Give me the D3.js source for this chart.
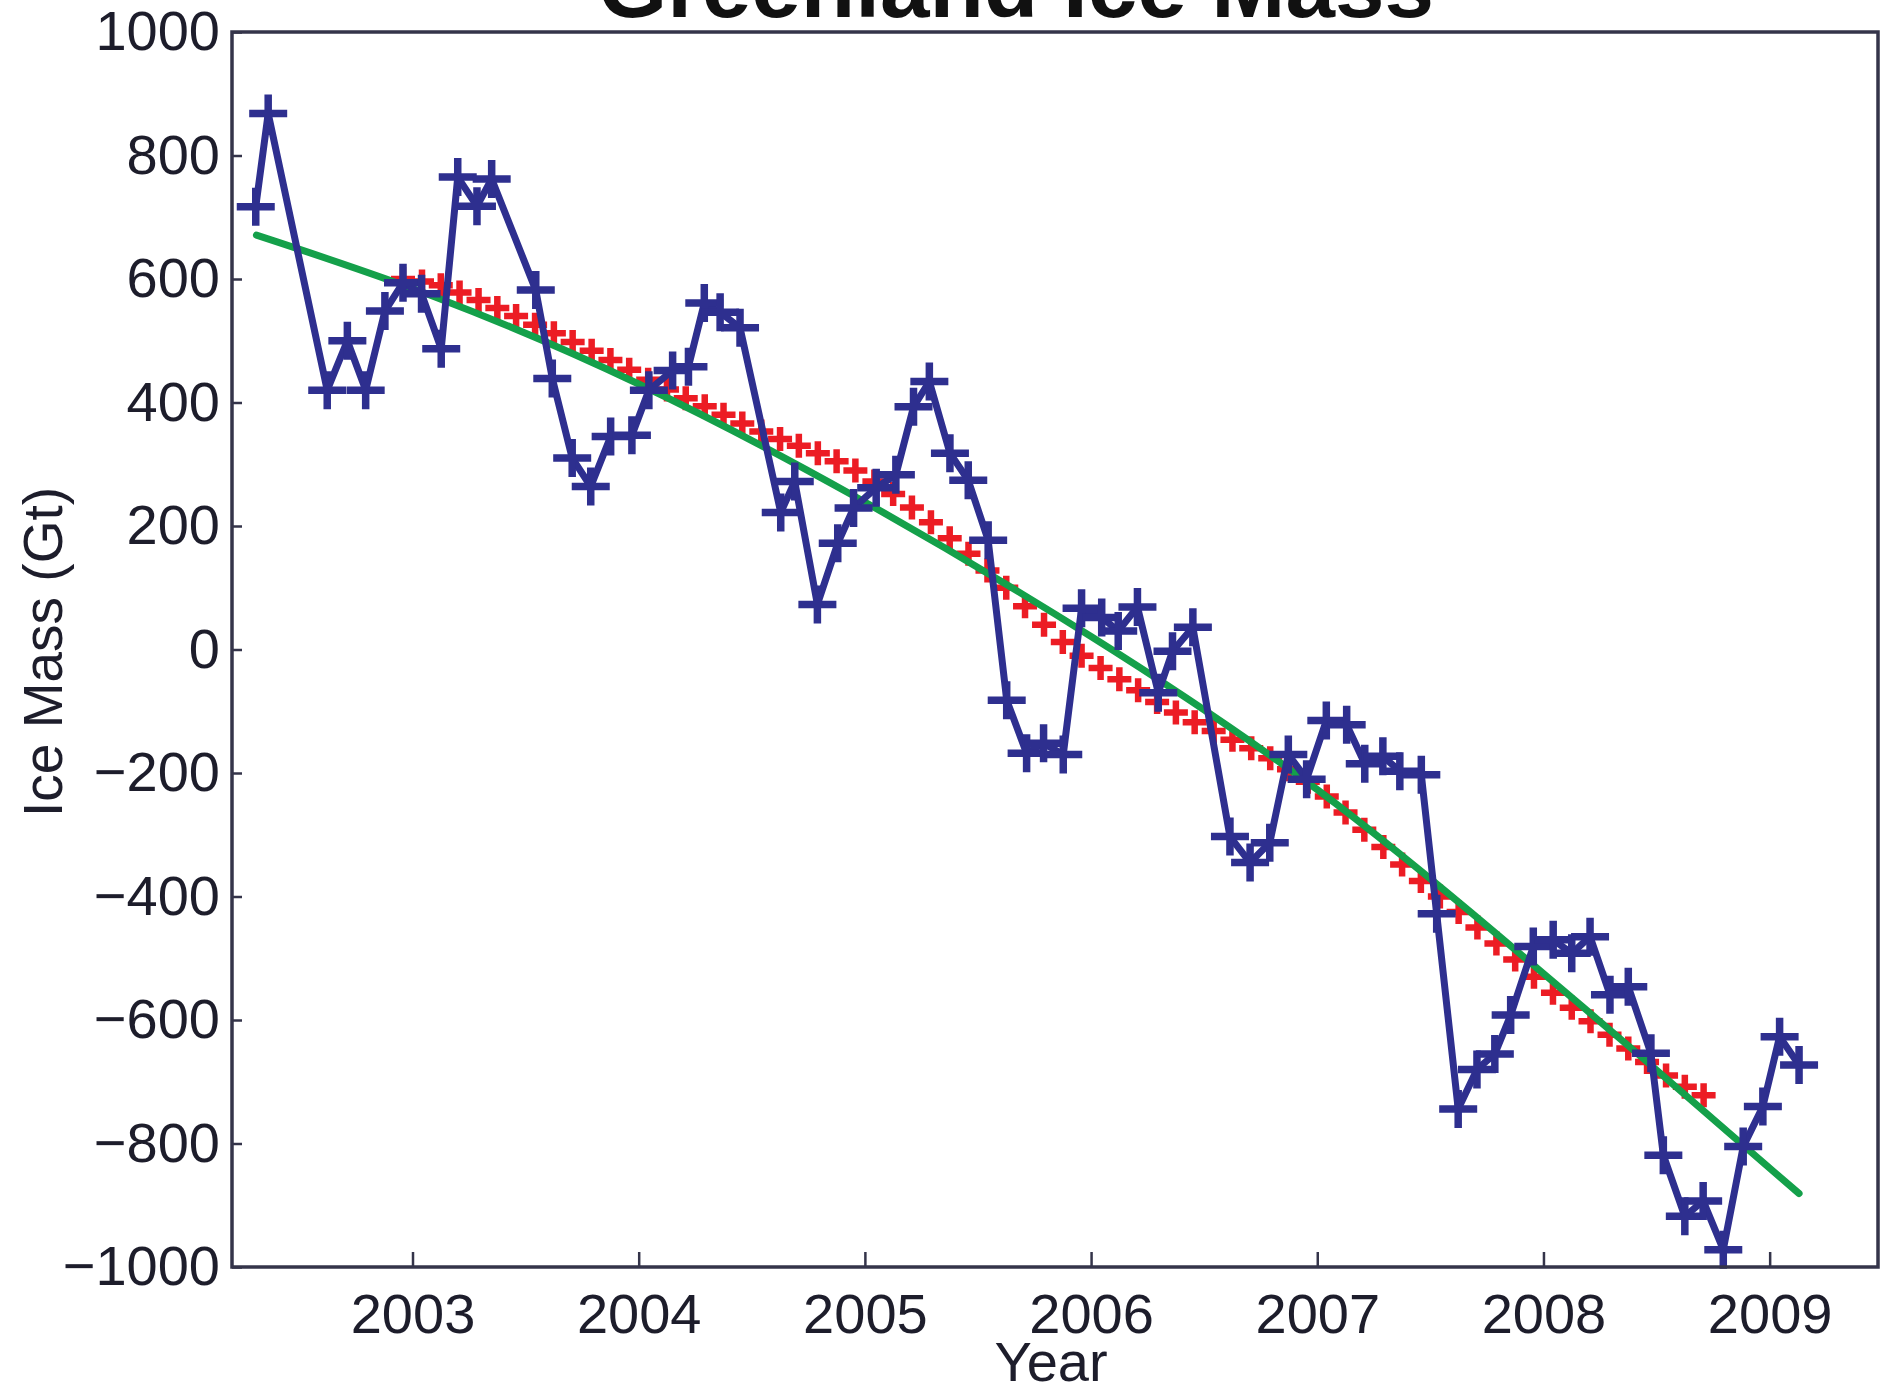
<!DOCTYPE html>
<html>
<head>
<meta charset="utf-8">
<title>Greenland Ice Mass</title>
<script src="https://cdn.jsdelivr.net/npm/d3@7"></script>
<style>
  html, body { margin: 0; padding: 0; background: #fff; }
  svg { display: block; font-family: "Liberation Sans", Arial, Helvetica, sans-serif; }
</style>
</head>
<body>
<div id="chart"></div>
<script>
// GRACE monthly ice mass (blue, with seasonal cycle)
const blueYears = [
  2002.307, 2002.362, 2002.623, 2002.712, 2002.793, 2002.878, 2002.958, 2003.040,
  2003.127, 2003.200, 2003.285, 2003.350, 2003.545, 2003.618, 2003.706, 2003.788,
  2003.876, 2003.970, 2004.045, 2004.150, 2004.220, 2004.290, 2004.360, 2004.448,
  2004.628, 2004.690, 2004.790, 2004.880, 2004.950, 2005.050, 2005.137, 2005.215,
  2005.285, 2005.376, 2005.457, 2005.545, 2005.627, 2005.715, 2005.790, 2005.877,
  2005.958, 2006.047, 2006.120, 2006.205, 2006.297, 2006.360, 2006.450, 2006.614,
  2006.703, 2006.790, 2006.872, 2006.953, 2007.040, 2007.130, 2007.210, 2007.290,
  2007.365, 2007.460, 2007.528, 2007.623, 2007.706, 2007.785, 2007.855, 2007.955,
  2008.043, 2008.125, 2008.206, 2008.294, 2008.375, 2008.475, 2008.530, 2008.625,
  2008.706, 2008.795, 2008.883, 2008.970, 2009.044, 2009.130
];
const blueMass = [
  717, 868, 420, 500, 420, 548, 594, 576,
  487, 765, 718, 762, 582, 439, 310, 264,
  345, 347, 420, 452, 458, 561, 546, 521,
  222, 272, 73, 172, 229, 262, 283, 393,
  434, 318, 274, 177, -82, -168, -152, -170,
  67, 52, 30, 69, -70, -3, 36, -303,
  -345, -313, -170, -210, -115, -122, -185, -173,
  -197, -203, -428, -744, -680, -655, -592, -481,
  -470, -492, -465, -559, -546, -654, -819, -918,
  -893, -972, -805, -740, -627, -673
];

// Seasonal cycle removed (red)
const redYears = [
  2002.958, 2003.042, 2003.125, 2003.208, 2003.292, 2003.375, 2003.458, 2003.542,
  2003.625, 2003.708, 2003.792, 2003.875, 2003.958, 2004.042, 2004.125, 2004.208,
  2004.292, 2004.375, 2004.458, 2004.542, 2004.625, 2004.708, 2004.792, 2004.875,
  2004.958, 2005.042, 2005.125, 2005.208, 2005.292, 2005.375, 2005.458, 2005.542,
  2005.625, 2005.708, 2005.792, 2005.875, 2005.958, 2006.042, 2006.125, 2006.208,
  2006.292, 2006.375, 2006.458, 2006.542, 2006.625, 2006.708, 2006.792, 2006.875,
  2006.958, 2007.042, 2007.125, 2007.208, 2007.292, 2007.375, 2007.458, 2007.542,
  2007.625, 2007.708, 2007.792, 2007.875, 2007.958, 2008.042, 2008.125, 2008.208,
  2008.292, 2008.375, 2008.458, 2008.542, 2008.625, 2008.708
];
const redMass = [
  600, 596, 590, 578, 566, 553, 540, 526,
  512, 498, 484, 469, 453, 437, 421, 407,
  394, 380, 366, 353, 341, 330, 318, 305,
  290, 272, 252, 230, 206, 180, 155, 128,
  100, 70, 40, 12, -10, -30, -48, -66,
  -85, -102, -118, -132, -146, -160, -176, -194,
  -214, -238, -264, -292, -320, -348, -375, -400,
  -425, -450, -476, -502, -530, -556, -580, -602,
  -624, -646, -668, -690, -708, -722
];

// Quadratic trend (green)
const greenYears = [2002.31, 2003.1, 2004.0, 2004.96, 2006.0, 2007.0, 2007.81, 2008.43, 2009.13];
const greenMass = [671, 571, 430, 247, 21, -227, -466, -659, -881];

const xTicks = [2003, 2004, 2005, 2006, 2007, 2008, 2009];
const yTicks = [1000, 800, 600, 400, 200, 0, -200, -400, -600, -800, -1000];

const width = 1880;
const height = 1393;
const plot = { left: 232, right: 1878, top: 32, bottom: 1267 };

const x = d3.scaleLinear()
  .domain([2002.202, 2009.479])
  .range([plot.left, plot.right]);
const y = d3.scaleLinear()
  .domain([-1000, 1000])
  .range([plot.bottom, plot.top]);

const svg = d3.select('#chart')
  .append('svg')
  .attr('width', width)
  .attr('height', height);

const textColor = '#1d1d2b';
const axisColor = '#34344a';
const blueColor = '#2e2f8f';

// Title (cropped at the top edge, as in the original)
svg.append('text')
  .attr('x', 1016)
  .attr('y', 17)
  .attr('text-anchor', 'middle')
  .attr('font-size', 89)
  .attr('font-weight', 'bold')
  .attr('fill', '#111')
  .text('Greenland Ice Mass');

// Plus-shaped marker path
function plus(px, py, s) {
  return `M${px - s},${py}H${px + s}M${px},${py - s}V${py + s}`;
}

const red = redYears.map((t, i) => [t, redMass[i]]);
const green = greenYears.map((t, i) => [t, greenMass[i]]);
const blue = blueYears.map((t, i) => [t, blueMass[i]]);

// Red markers
svg.append('g')
  .selectAll('path')
  .data(red)
  .join('path')
  .attr('d', d => plus(x(d[0]), y(d[1]), 12))
  .attr('stroke', '#ec1c24')
  .attr('stroke-width', 6.5)
  .attr('fill', 'none');

// Green trend line
svg.append('path')
  .datum(green)
  .attr('d', d3.line().x(d => x(d[0])).y(d => y(d[1])).curve(d3.curveNatural))
  .attr('fill', 'none')
  .attr('stroke', '#14a04a')
  .attr('stroke-width', 7)
  .attr('stroke-linecap', 'round');

// Blue line + markers
svg.append('path')
  .datum(blue)
  .attr('d', d3.line().x(d => x(d[0])).y(d => y(d[1])))
  .attr('fill', 'none')
  .attr('stroke', blueColor)
  .attr('stroke-width', 7)
  .attr('stroke-linejoin', 'round');

svg.append('g')
  .selectAll('path')
  .data(blue)
  .join('path')
  .attr('d', d => plus(x(d[0]), y(d[1]), 19))
  .attr('stroke', blueColor)
  .attr('stroke-width', 7.5)
  .attr('fill', 'none');

// Box around plot
svg.append('rect')
  .attr('x', plot.left)
  .attr('y', plot.top)
  .attr('width', plot.right - plot.left)
  .attr('height', plot.bottom - plot.top)
  .attr('fill', 'none')
  .attr('stroke', axisColor)
  .attr('stroke-width', 3.5);

// X axis
const xAxis = svg.append('g')
  .attr('transform', `translate(0,${plot.bottom})`)
  .call(d3.axisBottom(x)
    .tickValues(xTicks)
    .tickFormat(d3.format('d'))
    .tickSizeInner(-15)
    .tickSizeOuter(0)
    .tickPadding(26));

// Y axis
const yAxis = svg.append('g')
  .attr('transform', `translate(${plot.left},0)`)
  .call(d3.axisLeft(y)
    .tickValues(yTicks)
    .tickFormat(d3.format('d'))
    .tickSizeInner(-10)
    .tickSizeOuter(0)
    .tickPadding(12));

[xAxis, yAxis].forEach(g => {
  g.select('.domain').remove();
  g.selectAll('.tick line').attr('stroke', axisColor).attr('stroke-width', 2.5);
  g.selectAll('.tick text')
    .attr('font-size', 56)
    .attr('font-family', '"Liberation Sans", Arial, sans-serif')
    .attr('fill', textColor);
});

// Axis labels
svg.append('text')
  .attr('x', 1051)
  .attr('y', 1381)
  .attr('text-anchor', 'middle')
  .attr('font-size', 56)
  .attr('fill', textColor)
  .text('Year');

svg.append('text')
  .attr('transform', 'translate(62,652) rotate(-90)')
  .attr('text-anchor', 'middle')
  .attr('font-size', 55)
  .attr('fill', textColor)
  .text('Ice Mass (Gt)');
</script>
</body>
</html>
